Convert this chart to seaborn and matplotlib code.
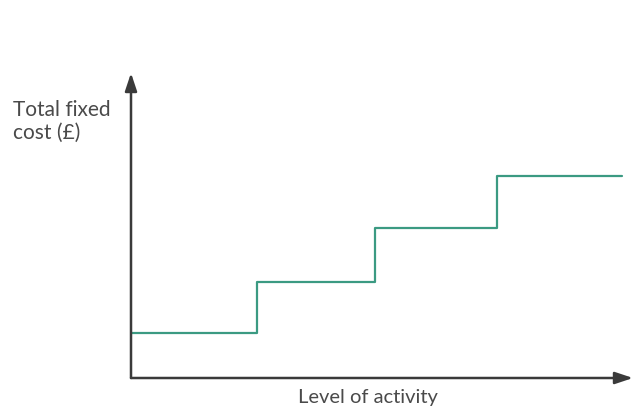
import pandas as pd
import matplotlib.pyplot as plt
import seaborn as sns

# Step-fixed cost values (arbitrary units)
activity = [0, 126, 244, 366, 491]
fixed_cost = [45, 96, 150, 202, 202]

df = pd.DataFrame({"activity": activity, "cost": fixed_cost})

sns.set_theme(style="white")
plt.rcParams['font.family'] = ['Lato', 'DejaVu Sans']

fig = plt.figure(figsize=(6.33, 4.12), dpi=100)
ax = fig.add_axes([131 / 633, 34 / 412, 502 / 633, 305 / 412])

sns.lineplot(data=df, x="activity", y="cost", drawstyle="steps-post",
             color="#3b9a82", linewidth=1.6, ax=ax)

ax.set_xlim(0, 502)
ax.set_ylim(0, 305)
ax.set_xticks([])
ax.set_yticks([])
ax.set_xlabel("")
ax.set_ylabel("")
for s in ax.spines.values():
    s.set_visible(False)

# axes with arrow heads
axis_col = "#3a3a3a"
ax.annotate("", xy=(0, 1), xytext=(0, 0), xycoords="axes fraction",
            arrowprops=dict(arrowstyle="-|>,head_length=0.9,head_width=0.3",
                            color=axis_col, lw=1.8, shrinkA=0, shrinkB=0))
ax.annotate("", xy=(1, 0), xytext=(0, 0), xycoords="axes fraction",
            arrowprops=dict(arrowstyle="-|>,head_length=0.9,head_width=0.3",
                            color=axis_col, lw=1.8, shrinkA=0, shrinkB=0))

fig.text(13 / 633, 1 - 100 / 412, "Total fixed\ncost (£)", ha="left", va="top",
         fontsize=15, color="#4a4a4a", linespacing=1.15)
fig.text(368 / 633, 1 - 397 / 412, "Level of activity", ha="center", va="center",
         fontsize=14.5, color="#4a4a4a")

fig.savefig("out.png", dpi=100, facecolor="white")
